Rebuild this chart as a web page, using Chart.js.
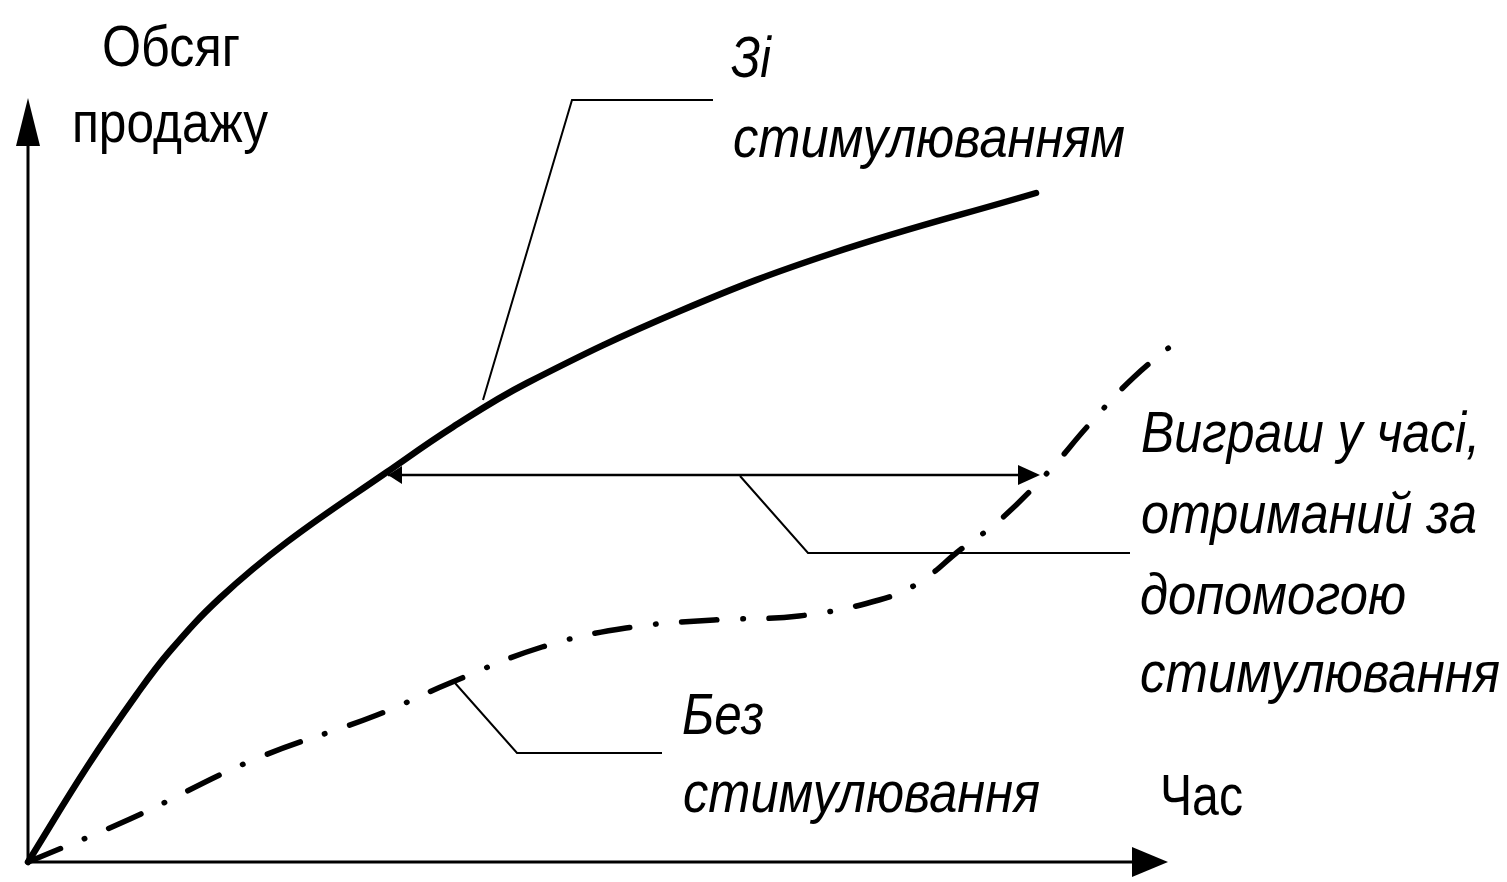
<!DOCTYPE html>
<html>
<head>
<meta charset="utf-8">
<script src="https://cdn.jsdelivr.net/npm/chart.js@4.4.1/dist/chart.umd.min.js"></script>
<style>
  html, body { margin: 0; padding: 0; background: #fff; }
  #salesChart { display: block; }
</style>
</head>
<body>
<canvas id="salesChart" width="1507" height="882"></canvas>
<script>

// time (x) and sales volume (y)
var timeWith = [0, 0.59, 1.09, 1.42, 1.92, 2.59, 3.59, 4.25, 4.99, 6.52, 8.05, 10.08];
var salesWith = [0, 0.95, 1.68, 2.11, 2.64, 3.20, 3.90, 4.35, 4.79, 5.51, 6.09, 6.69];

var timeWithout = [0, 1.02, 2.25, 3.49, 4.22, 5.14, 5.98, 6.86, 7.71, 8.51, 8.92, 9.32, 9.72, 10.22, 10.59, 11.05, 11.59];
var salesWithout = [0, 0.43, 1.02, 1.47, 1.79, 2.15, 2.34, 2.42, 2.46, 2.62, 2.80, 3.12, 3.42, 3.92, 4.35, 4.84, 5.29];

var axisEnds = { x: 11.4, y: 7.64 };

// horizontal "time gain" arrow between the two curves
var gainLevel = 3.87;
var gainFrom = 3.60;
var gainTo = 10.12;

var leaders = [
	[[4.55, 4.62], [5.44, 7.62], [6.85, 7.62]],
	[[7.12, 3.86], [7.80, 3.09], [11.02, 3.09]],
	[[4.27, 1.79], [4.89, 1.09], [6.34, 1.09]]
];

var labels = [
	{ text: 'Обсяг', x: 0.74, y: 7.96, w: 138, italic: false },
	{ text: 'продажу', x: 0.44, y: 7.20, w: 196, italic: false },
	{ text: 'Зі', x: 7.03, y: 7.85, w: 40, italic: true },
	{ text: 'стимулюванням', x: 7.05, y: 7.05, w: 392, italic: true },
	{ text: 'Виграш у часі,', x: 11.13, y: 4.10, w: 339, italic: true },
	{ text: 'отриманий за', x: 11.13, y: 3.29, w: 336, italic: true },
	{ text: 'допомогою', x: 11.12, y: 2.48, w: 266, italic: true },
	{ text: 'стимулювання', x: 11.12, y: 1.70, w: 360, italic: true },
	{ text: 'Без', x: 6.54, y: 1.28, w: 82, italic: true },
	{ text: 'стимулювання', x: 6.55, y: 0.50, w: 357, italic: true },
	{ text: 'Час', x: 11.32, y: 0.47, w: 83, italic: false }
];

function toPoints(xs, ys) {
	var pts = [];
	for (var i = 0; i < xs.length; i++) {
		pts.push({ x: xs[i], y: ys[i] });
	}
	return pts;
}

function arrowHead(ctx, tipX, tipY, dirX, dirY, len, half) {
	var bx = tipX - dirX * len, by = tipY - dirY * len;
	ctx.beginPath();
	ctx.moveTo(tipX, tipY);
	ctx.lineTo(bx - dirY * half, by + dirX * half);
	ctx.lineTo(bx + dirY * half, by - dirX * half);
	ctx.closePath();
	ctx.fill();
}

var schemePlugin = {
	id: 'scheme',
	afterDatasetsDraw: function(chart) {
		var ctx = chart.ctx;
		var sx = chart.scales.x, sy = chart.scales.y;
		var ox = sx.getPixelForValue(0), oy = sy.getPixelForValue(0);

		ctx.save();
		ctx.strokeStyle = '#000';
		ctx.fillStyle = '#000';

		// axes
		var xTip = sx.getPixelForValue(axisEnds.x);
		var yTip = sy.getPixelForValue(axisEnds.y);
		ctx.lineWidth = 3;
		ctx.beginPath();
		ctx.moveTo(ox, oy);
		ctx.lineTo(xTip - 20, oy);
		ctx.moveTo(ox, oy);
		ctx.lineTo(ox, yTip + 20);
		ctx.stroke();
		arrowHead(ctx, xTip, oy, 1, 0, 36, 15);
		arrowHead(ctx, ox, yTip, 0, -1, 48, 12);

		// gain arrow
		var gy = sy.getPixelForValue(gainLevel);
		var g1 = sx.getPixelForValue(gainFrom), g2 = sx.getPixelForValue(gainTo);
		ctx.lineWidth = 2.5;
		ctx.beginPath();
		ctx.moveTo(g1, gy);
		ctx.lineTo(g2 - 10, gy);
		ctx.stroke();
		arrowHead(ctx, g2, gy, 1, 0, 22, 10);
		arrowHead(ctx, g1, gy, -1, 0, 14, 9);

		// leader lines
		ctx.lineWidth = 2;
		leaders.forEach(function(l) {
			ctx.beginPath();
			l.forEach(function(p, i) {
				var px = sx.getPixelForValue(p[0]), py = sy.getPixelForValue(p[1]);
				if (i === 0) ctx.moveTo(px, py); else ctx.lineTo(px, py);
			});
			ctx.stroke();
		});

		// texts
		ctx.textBaseline = 'alphabetic';
		ctx.textAlign = 'left';
		labels.forEach(function(lb) {
			ctx.font = (lb.italic ? 'italic ' : '') + '58px "Liberation Sans", Arial, sans-serif';
			var natural = ctx.measureText(lb.text).width;
			var px = sx.getPixelForValue(lb.x), py = sy.getPixelForValue(lb.y);
			ctx.save();
			ctx.translate(px, py);
			ctx.scale(lb.w / natural, 1);
			ctx.fillText(lb.text, 0, 0);
			ctx.restore();
		});

		ctx.restore();
	}
};

var ctx = document.getElementById('salesChart');

var salesChart = new Chart(ctx, {
	type: 'line',
	data: {
		datasets: [{
			label: 'Зі стимулюванням',
			data: toPoints(timeWith, salesWith),
			borderColor: '#000',
			borderWidth: 6.5,
			borderCapStyle: 'round',
			borderJoinStyle: 'round',
			tension: 0.4,
			pointRadius: 0,
			fill: false,
			clip: false
		}, {
			label: 'Без стимулювання',
			data: toPoints(timeWithout, salesWithout),
			borderColor: '#000',
			borderWidth: 5.5,
			borderCapStyle: 'round',
			borderJoinStyle: 'round',
			borderDash: [35, 26, 0.5, 26],
			tension: 0.4,
			pointRadius: 0,
			fill: false,
			clip: false
		}]
	},
	options: {
		responsive: false,
		animation: false,
		devicePixelRatio: 1,
		layout: { padding: { left: 28, right: 29, top: 12, bottom: 20 } },
		plugins: { legend: { display: false }, tooltip: { enabled: false } },
		scales: {
			x: { type: 'linear', min: 0, max: 14.5, display: false },
			y: { type: 'linear', min: 0, max: 8.5, display: false }
		}
	},
	plugins: [schemePlugin]
});

</script>
</body>
</html>
